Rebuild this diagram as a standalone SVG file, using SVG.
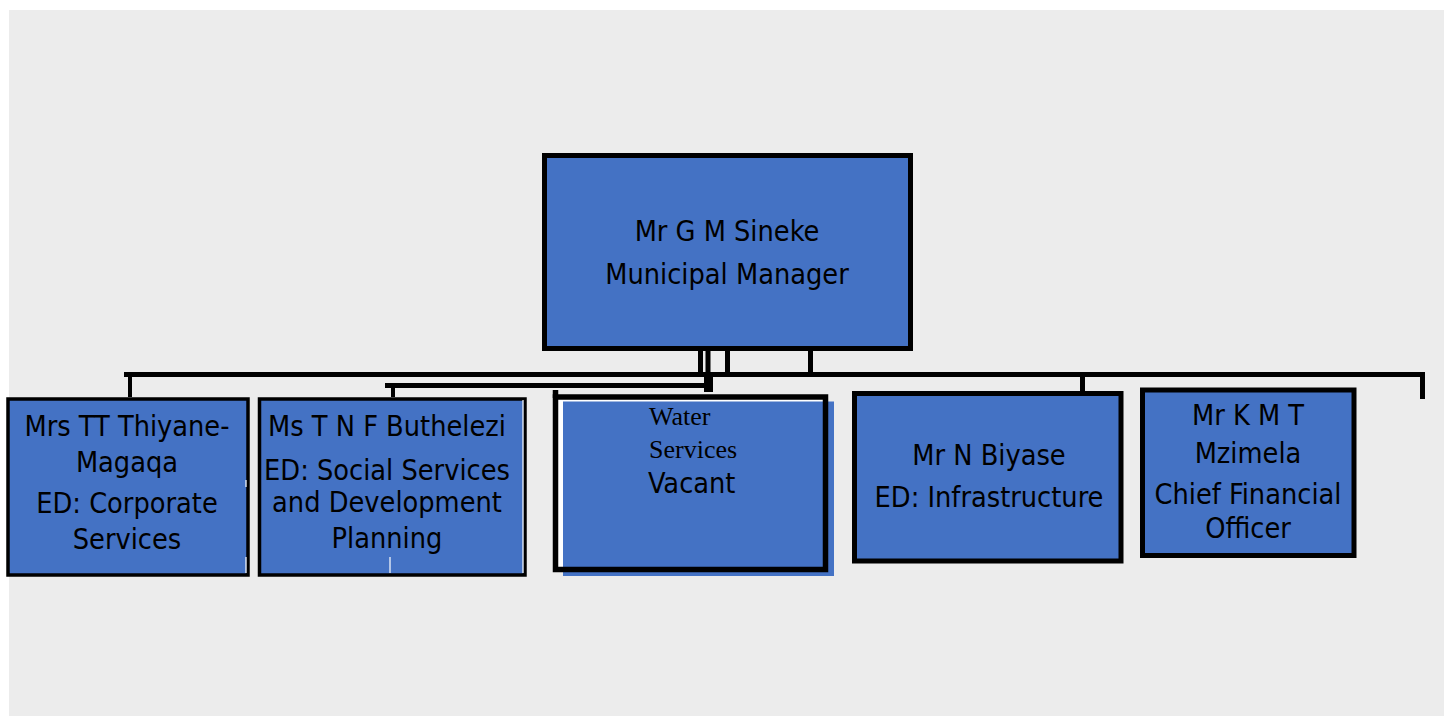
<svg xmlns="http://www.w3.org/2000/svg" width="1449" height="716" viewBox="0 0 1449 716">
<style>
.box{fill:#4472c4;stroke:#000;stroke-width:5}
.thin{fill:#4472c4;stroke:#000;stroke-width:3.5}
.t{font-family:"DejaVu Sans Condensed","DejaVu Sans",sans-serif;font-stretch:condensed;font-size:28.6px;fill:#000;text-anchor:middle}
.s{font-family:"Liberation Serif","Times New Roman",serif;font-size:26px;fill:#000}
.c{stroke:#000;stroke-width:5;fill:none}
.w{stroke:#fff;stroke-width:1.2}
</style>
<rect width="1449" height="716" fill="#fff"/>
<rect x="9" y="10" width="1435" height="706" fill="#ececec"/>
<g id="connectors">
<line class="c" x1="124" y1="374.5" x2="1425" y2="374.5"/>
<line class="c" x1="700.5" y1="350" x2="700.5" y2="374"/>
<line class="c" x1="708" y1="350" x2="708" y2="374"/>
<line class="c" x1="727.5" y1="350" x2="727.5" y2="374"/>
<line class="c" x1="810.5" y1="350" x2="810.5" y2="374"/>
<rect x="704" y="372" width="9" height="20" fill="#000"/>
<line class="c" x1="385" y1="385.5" x2="712" y2="385.5"/>
<line x1="130" y1="377" x2="130" y2="397" stroke="#000" stroke-width="4"/>
<line x1="393" y1="388" x2="393" y2="397" stroke="#000" stroke-width="4"/>
<line class="c" x1="1082.5" y1="377" x2="1082.5" y2="391"/>
<line class="c" x1="1422.5" y1="372" x2="1422.5" y2="399"/>
</g>
<g id="n0">
<rect class="box" x="544.5" y="155.5" width="366" height="193"/>
<text class="t" x="727" y="241">Mr G M Sineke</text>
<text class="t" x="727" y="284">Municipal Manager</text>
</g>
<g id="n1">
<rect class="thin" x="8" y="399" width="240" height="176"/>
<line class="w" x1="246" y1="480" x2="246" y2="487"/>
<line class="w" x1="246" y1="557" x2="246" y2="573"/>
<text class="t" x="127" y="436">Mrs TT Thiyane-</text>
<text class="t" x="127" y="472">Magaqa</text>
<text class="t" x="127" y="513">ED: Corporate</text>
<text class="t" x="127" y="549">Services</text>
</g>
<g id="n2">
<rect class="thin" x="259.5" y="399" width="265.5" height="176"/>
<line class="w" x1="523" y1="400" x2="523" y2="573"/>
<line class="w" x1="390" y1="557" x2="390" y2="573"/>
<text class="t" x="387" y="436">Ms T N F Buthelezi</text>
<text class="t" x="387" y="480">ED: Social Services</text>
<text class="t" x="387" y="512">and Development</text>
<text class="t" x="387" y="548">Planning</text>
</g>
<g id="n3">
<rect x="555.5" y="397" width="270" height="173" fill="#fff"/>
<rect x="563" y="401.5" width="271" height="174.5" fill="#4472c4"/>
<rect x="555.5" y="397" width="270" height="172.5" fill="none" stroke="#000" stroke-width="5.5"/>
<line x1="555.5" y1="390" x2="555.5" y2="398" stroke="#000" stroke-width="5.5"/>
<text class="s" x="649" y="425">Water</text>
<text class="s" x="649" y="458">Services</text>
<text class="t" x="648" y="493" style="text-anchor:start">Vacant</text>
</g>
<g id="n4">
<rect class="box" x="854.5" y="393.5" width="266.5" height="167.5"/>
<text class="t" x="989" y="465">Mr N Biyase</text>
<text class="t" x="989" y="507">ED: Infrastructure</text>
</g>
<g id="n5">
<rect class="box" x="1142.5" y="390" width="211.5" height="165.5"/>
<text class="t" x="1248" y="425">Mr K M T</text>
<text class="t" x="1248" y="463">Mzimela</text>
<text class="t" x="1248" y="504">Chief Financial</text>
<text class="t" x="1248" y="538">Officer</text>
</g>
</svg>
